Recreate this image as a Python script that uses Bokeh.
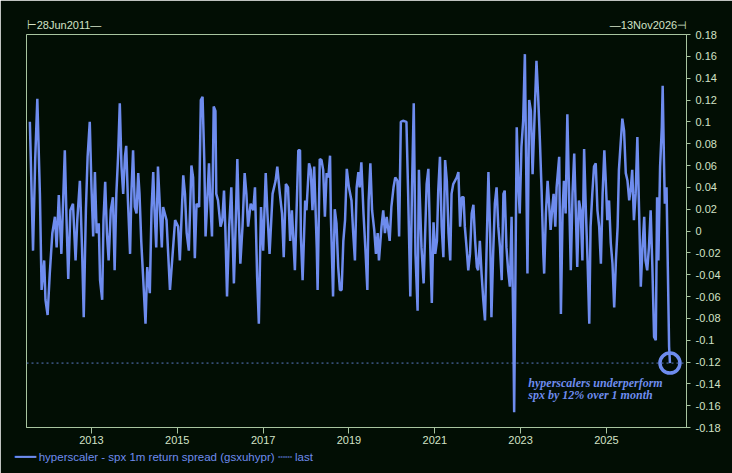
import numpy as np
import pandas as pd
from bokeh.plotting import figure
from bokeh.models import (Range1d, FixedTicker, CustomJSTickFormatter, Label,
                          LinearAxis, Title)
from bokeh.embed import file_html
from bokeh.resources import INLINE

# ---- data (decimal year, 1m return spread) ----
dec_years = [
    2011.566, 2011.64, 2011.69, 2011.74, 2011.80, 2011.84, 2011.90, 2011.93, 2011.98, 2012.03,
    2012.09, 2012.15, 2012.19, 2012.24, 2012.30, 2012.38, 2012.42, 2012.46, 2012.51, 2012.57,
    2012.63, 2012.67, 2012.73, 2012.78, 2012.82, 2012.87, 2012.91, 2012.96, 2013.00, 2013.04,
    2013.08, 2013.12, 2013.17, 2013.20, 2013.25, 2013.28, 2013.32, 2013.36, 2013.40, 2013.45,
    2013.50, 2013.54, 2013.58, 2013.62, 2013.66, 2013.70, 2013.74, 2013.78, 2013.81, 2013.85,
    2013.90, 2013.93, 2013.97, 2014.01, 2014.05, 2014.09, 2014.12, 2014.16, 2014.20, 2014.26,
    2014.30, 2014.36, 2014.40, 2014.44, 2014.47, 2014.51, 2014.55,
    2014.64, 2014.67, 2014.75, 2014.83, 2014.87, 2014.95, 2015.02, 2015.06, 2015.14, 2015.18,
    2015.22, 2015.27, 2015.33, 2015.37, 2015.41, 2015.45, 2015.51, 2015.55, 2015.59, 2015.63,
    2015.66, 2015.70, 2015.74, 2015.77, 2015.81, 2015.85, 2015.89, 2015.91, 2015.95, 2016.01,
    2016.05, 2016.09, 2016.12, 2016.16, 2016.21, 2016.26, 2016.32, 2016.36, 2016.40, 2016.43,
    2016.47, 2016.52, 2016.57, 2016.61, 2016.65, 2016.71, 2016.77, 2016.81, 2016.86, 2016.90,
    2016.95, 2017.00, 2017.06, 2017.10, 2017.15, 2017.22, 2017.29, 2017.33, 2017.39, 2017.44,
    2017.48, 2017.53, 2017.58,
    2017.63, 2017.67, 2017.74, 2017.82, 2017.86, 2017.88, 2017.92, 2017.98, 2018.01, 2018.07,
    2018.11, 2018.15, 2018.19, 2018.25, 2018.27, 2018.32, 2018.36, 2018.40, 2018.44, 2018.48,
    2018.52, 2018.56, 2018.58, 2018.63, 2018.67, 2018.71, 2018.75, 2018.79, 2018.83, 2018.87,
    2018.91, 2018.95, 2019.00, 2019.06, 2019.10, 2019.14, 2019.18, 2019.22, 2019.25, 2019.29,
    2019.34, 2019.39, 2019.43, 2019.46, 2019.50, 2019.54, 2019.59, 2019.63, 2019.67, 2019.70,
    2019.76, 2019.80, 2019.84, 2019.88, 2019.91, 2019.95, 2019.99, 2020.04, 2020.08, 2020.13,
    2020.17, 2020.21, 2020.26, 2020.34, 2020.38, 2020.43, 2020.47, 2020.51, 2020.55, 2020.60,
    2020.63, 2020.69,
    2020.74, 2020.77, 2020.81, 2020.85, 2020.89, 2020.93, 2020.97, 2021.01, 2021.05, 2021.08,
    2021.12, 2021.16, 2021.20, 2021.24, 2021.28, 2021.32, 2021.36, 2021.39, 2021.43, 2021.51,
    2021.55, 2021.59, 2021.63, 2021.67, 2021.70, 2021.74, 2021.78, 2021.82, 2021.86, 2021.90,
    2021.94, 2021.98, 2022.01, 2022.05, 2022.09, 2022.13, 2022.17, 2022.21, 2022.25, 2022.29,
    2022.32, 2022.36, 2022.40, 2022.44, 2022.48, 2022.52, 2022.56, 2022.60, 2022.63, 2022.67,
    2022.71, 2022.75, 2022.79, 2022.83, 2022.85, 2022.88, 2022.91, 2022.95, 2022.98, 2023.02,
    2023.06, 2023.10, 2023.14, 2023.16, 2023.20, 2023.24, 2023.28, 2023.32, 2023.37, 2023.41,
    2023.45, 2023.49, 2023.53, 2023.55, 2023.59, 2023.63, 2023.66, 2023.70, 2023.74,
    2023.77, 2023.81, 2023.84, 2023.90, 2023.94, 2023.98, 2024.01, 2024.05, 2024.09, 2024.13,
    2024.17, 2024.21, 2024.25, 2024.29, 2024.32, 2024.36, 2024.40, 2024.44, 2024.48, 2024.52,
    2024.56, 2024.60, 2024.63, 2024.67, 2024.71, 2024.75, 2024.79, 2024.83, 2024.87, 2024.91,
    2024.95, 2024.98, 2025.02, 2025.06, 2025.10, 2025.14, 2025.18, 2025.22, 2025.26, 2025.29,
    2025.33, 2025.37, 2025.41, 2025.45, 2025.49, 2025.53, 2025.57, 2025.60, 2025.64, 2025.68,
    2025.72, 2025.76, 2025.80, 2025.84, 2025.88, 2025.91, 2025.95, 2025.99, 2026.03, 2026.07,
    2026.11, 2026.15, 2026.18, 2026.21, 2026.25, 2026.29, 2026.31, 2026.34, 2026.36, 2026.40,
    2026.43, 2026.46, 2026.48,
]
spread = [
    0.100, -0.018, 0.065, 0.121, 0.034, -0.054, -0.027, -0.063, -0.077, -0.039,
    -0.002, 0.013, -0.015, 0.033, -0.021, 0.074, 0.010, -0.044, 0.019, 0.025,
    -0.027, 0.010, 0.046, -0.015, -0.079, 0.019, 0.068, 0.100, 0.040, -0.005,
    0.054, -0.002, 0.007, -0.045, -0.063, 0.010, 0.045, -0.002, -0.027, 0.019,
    0.031, -0.036, 0.034, 0.068, 0.117, 0.059, 0.034, 0.068, 0.078, 0.028,
    -0.021, 0.034, 0.074, 0.022, 0.016, 0.053, 0.034, -0.009, -0.039, -0.085,
    -0.033, -0.057, 0.019, 0.054, 0.019, -0.015, 0.059,
    -0.015, 0.022, 0.010, -0.054, -0.033, 0.010, 0.004, -0.027, 0.051, 0.034,
    -0.002, -0.018, 0.060, 0.049, -0.025, 0.025, 0.022, 0.120, 0.123, 0.065,
    -0.005, 0.028, 0.062, 0.028, -0.005, 0.114, 0.110, 0.034, 0.028, 0.004,
    0.010, 0.037, 0.004, -0.060, 0.004, 0.040, -0.048, 0.004, 0.066, 0.019,
    -0.030, 0.004, 0.053, 0.034, 0.004, 0.025, 0.019, 0.040, -0.042, -0.085,
    0.022, -0.018, 0.053, 0.016, -0.021, 0.034, 0.046, 0.059, 0.034, 0.016,
    -0.024, 0.043, 0.040,
    -0.009, 0.019, -0.036, 0.074, 0.074, -0.005, -0.045, 0.028, 0.019, 0.062,
    0.056, 0.019, 0.059, -0.015, -0.054, 0.066, 0.065, 0.056, 0.013, 0.053,
    0.049, 0.069, 0.013, -0.060, 0.020, 0.007, -0.033, -0.054, -0.054, -0.009,
    0.010, 0.057, 0.040, 0.028, -0.002, -0.027, 0.040, 0.054, 0.040, 0.063,
    0.016, -0.021, -0.054, 0.028, 0.062, 0.019, 0.001, -0.021, -0.002, -0.027,
    0.004, 0.019, -0.002, 0.013, 0.004, -0.009, 0.022, 0.040, 0.049, 0.046,
    -0.005, 0.100, 0.101, 0.100, 0.034, -0.060, 0.040, 0.117, -0.021, -0.073,
    0.056, -0.015,
    -0.048, -0.009, 0.043, 0.057, -0.009, -0.066, 0.008, -0.021, -0.009, 0.037,
    0.068, 0.004, -0.024, 0.065, 0.046, -0.002, -0.027, 0.034, 0.043, 0.049,
    0.054, 0.004, 0.031, 0.031, 0.004, -0.015, -0.036, -0.021, 0.016, 0.024,
    -0.009, -0.033, -0.036, -0.009, -0.039, -0.063, -0.082, -0.012, 0.054, -0.002,
    -0.079, -0.021, 0.025, 0.040, 0.004, -0.015, -0.045, 0.034, 0.037, -0.015,
    -0.036, -0.051, 0.013, -0.085, -0.166, -0.039, 0.095, 0.040, 0.016, 0.077,
    0.101, 0.162, 0.028, -0.039, 0.120, 0.110, 0.052, 0.098, 0.156, 0.123,
    0.083, 0.037, -0.021, -0.039, 0.016, 0.046, 0.028, 0.001, 0.022,
    0.034, 0.004, 0.040, 0.068, -0.076, 0.019, 0.046, 0.016, 0.107, 0.034,
    -0.036, 0.034, 0.071, 0.013, -0.033, 0.028, 0.019, -0.027, 0.075, 0.019,
    -0.027, -0.085, 0.004, 0.034, 0.059, 0.062, 0.019, 0.004, -0.030, 0.034,
    0.074, 0.049, 0.010, 0.028, -0.011, -0.030, -0.070, -0.027, 0.004, 0.056,
    0.080, 0.103, 0.092, 0.053, 0.046, 0.028, 0.040, 0.056, 0.010, 0.034,
    0.086, 0.019, -0.051, -0.015, 0.013, -0.027, -0.036, -0.015, 0.019, -0.033,
    -0.097, -0.100, 0.031, -0.027, 0.059, 0.095, 0.133, 0.065, 0.025, 0.040,
    -0.033, -0.106, -0.121,
]

x_start = "2011-06-28"
x_end = "2026-11-13"
x_tick_years = [2013, 2015, 2017, 2019, 2021, 2023, 2025]
y_ticks = [-0.18, -0.16, -0.14, -0.12, -0.1, -0.08, -0.06, -0.04, -0.02, 0,
           0.02, 0.04, 0.06, 0.08, 0.1, 0.12, 0.14, 0.16, 0.18]
series_label = "hyperscaler - spx 1m return spread (gsxuhypr)"
last_label = "last"
note_lines = ["hyperscalers underperform", "spx by 12% over 1 month"]
range_labels = ["\u22a228Jun2011\u2014", "\u201413Nov2026\u22a3"]
legend_text = "\u2501\u2501\u2501 " + series_label + " \u2504\u2504  " + last_label


def to_dt(y):
    yr = int(np.floor(y))
    a = pd.Timestamp(yr, 1, 1)
    b = pd.Timestamp(yr + 1, 1, 1)
    return a + (b - a) * (y - yr)


def ms(ts):
    return pd.Timestamp(ts).value / 1e6


dates = [ms(to_dt(y)) for y in dec_years]

BG = "#020e04"
BLUE = "#6e8cee"
LASTC = "#5c7cc8"
AXIS = "#a8c4a0"
TXT = "#d2e2c6"
FONT = "Liberation Sans"
FRAME_W = 660  # px width of the plotting frame (732 - 26 - 46)

x0, x1 = ms(x_start), ms(x_end)
px = (x1 - x0) / FRAME_W  # ms per pixel, used to anchor the range markers

p = figure(width=732, height=473, x_axis_type="datetime", y_axis_location="right",
           x_range=Range1d(x0, x1), y_range=Range1d(-0.18, 0.18),
           output_backend="svg", toolbar_location=None,
           background_fill_color=BG, border_fill_color=BG,
           min_border_left=26, min_border_right=46, min_border_top=34, min_border_bottom=46)

p.xgrid.visible = False
p.ygrid.visible = False
p.outline_line_color = AXIS
p.outline_line_width = 1

for ax in (p.xaxis[0], p.yaxis[0]):
    ax.axis_line_color = AXIS
    ax.major_tick_line_color = AXIS
    ax.minor_tick_line_color = None
    ax.major_tick_in = 0
    ax.major_label_text_color = TXT
    ax.major_label_text_font = FONT
    ax.major_label_text_font_size = "11px"

p.xaxis.major_tick_out = 6
p.xaxis.major_label_standoff = 2
p.xaxis.ticker = FixedTicker(ticks=[ms(pd.Timestamp(y, 1, 1)) for y in x_tick_years])
p.xaxis.formatter = CustomJSTickFormatter(code="return String(new Date(tick).getUTCFullYear())")

p.yaxis.major_tick_out = 4
p.yaxis.major_label_standoff = 5
p.yaxis.ticker = FixedTicker(ticks=y_ticks)
p.yaxis.formatter = CustomJSTickFormatter(code="return String(Math.round(tick*100)/100)")

# range markers above the frame, drawn as labels of an extra (line-less) axis
top_axis = LinearAxis(
    ticker=FixedTicker(ticks=[x0 + 37.5 * px, x1 - 38 * px]),
    formatter=CustomJSTickFormatter(args=dict(labels=range_labels), code="return labels[index]"),
    axis_line_color=None, major_tick_line_color=None, minor_tick_line_color=None,
    major_tick_out=0, major_tick_in=0, major_label_standoff=4,
    major_label_text_color=TXT, major_label_text_font=FONT,
    major_label_text_font_size="11px")
p.add_layout(top_axis, "above")

# series
p.line(x=[x0, x1], y=[spread[-1], spread[-1]], line_color=LASTC, line_width=1, line_dash="2 3")
p.line(x=dates, y=spread, line_color=BLUE, line_width=2.5)
p.scatter(x=[dates[-1]], y=[spread[-1]], size=20, fill_alpha=0,
          line_color=BLUE, line_width=3.5)

note_x = ms(to_dt(2023.18))
for txt, yv in zip(note_lines, [-0.139, -0.1505]):
    p.add_layout(Label(x=note_x, y=yv, text=txt, text_color=BLUE,
                       text_font="Liberation Serif", text_font_style="bold italic",
                       text_font_size="12px", text_baseline="alphabetic"))

# legend line under the x axis
p.add_layout(Title(text=legend_text, align="left", offset=-12, standoff=5,
                   text_color=BLUE, text_font=FONT, text_font_size="11.5px",
                   text_font_style="normal"), "below")

open("out.html", "w").write(file_html(p, INLINE))
